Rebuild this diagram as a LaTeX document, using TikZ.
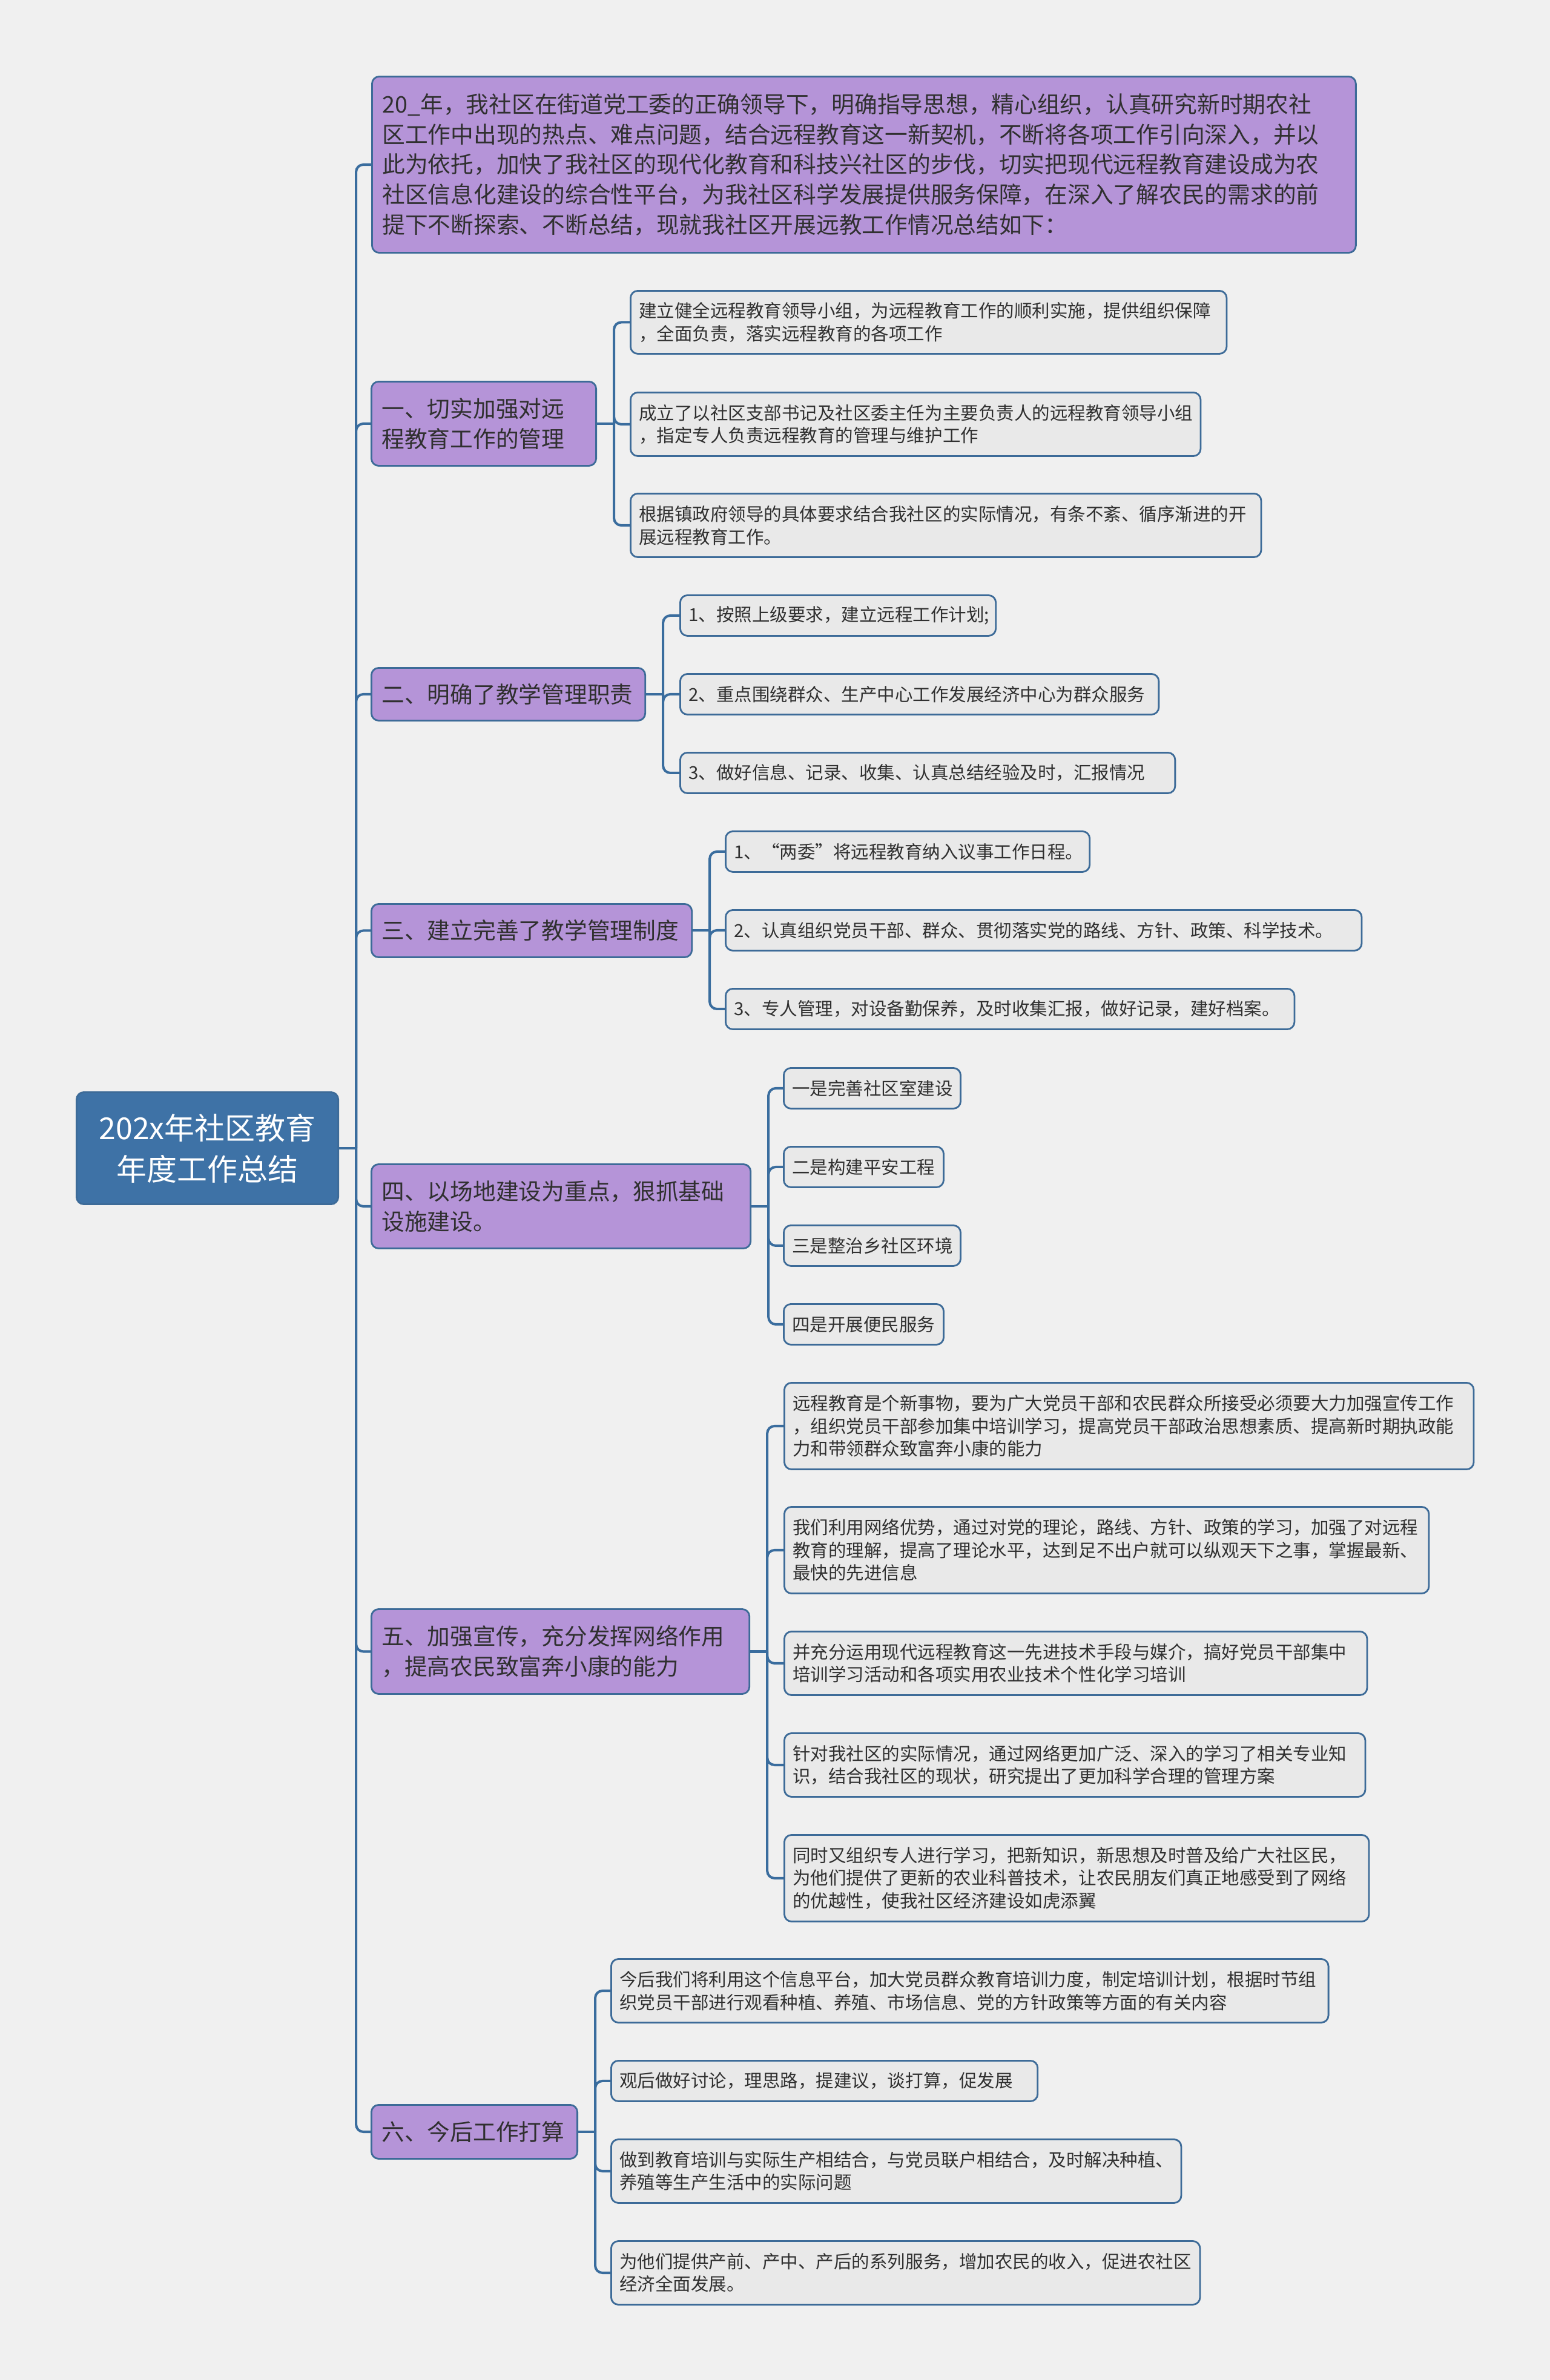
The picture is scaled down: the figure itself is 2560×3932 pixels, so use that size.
\documentclass[tikz,border=0pt]{standalone}
\usepackage{fontspec}
\newfontfamily\cjk{Noto Sans CJK SC}
\definecolor{paper}{HTML}{F0F0F0}
\definecolor{linkblue}{HTML}{3A6D9E}
\definecolor{boxline}{HTML}{3D6B98}
\definecolor{rootblue}{HTML}{3E72A6}
\definecolor{topicpurple}{HTML}{B594D8}
\definecolor{leafgray}{HTML}{E9E9E9}
\definecolor{inkdark}{HTML}{303030}

\begin{document}
\begin{tikzpicture}[x=0.01cm,y=-0.01cm,link/.style={draw=linkblue,line width=1.15pt,rounded corners=0.12cm},box/.style={draw=boxline,line width=0.8pt,rounded corners=0.12cm,anchor=north west,align=left,text=inkdark},root/.style={box,fill=rootblue,draw=boxline,text=white,align=center,inner sep=0pt,font=\cjk\fontsize{14.2}{19.35}\selectfont},topic/.style={box,fill=topicpurple,inner xsep=0.17cm,inner ysep=0pt,font=\cjk\fontsize{10.73}{14.2}\selectfont},leaf/.style={box,fill=leafgray,inner xsep=0.14cm,inner ysep=0pt,font=\cjk\fontsize{8.39}{10.67}\selectfont}]
\fill[paper] (0,0) rectangle (2560,3932);
\node[root,minimum width=4.32cm,minimum height=1.85cm] (root) at (125,1803) {202x年社区教育\\年度工作总结};
\node[topic,text width=15.9cm,minimum height=2.91cm] (intro) at (613,125) {20\_年，我社区在街道党工委的正确领导下，明确指导思想，精心组织，认真研究新时期农社\\区工作中出现的热点、难点问题，结合远程教育这一新契机，不断将各项工作引向深入，并以\\此为依托，加快了我社区的现代化教育和科技兴社区的步伐，切实把现代远程教育建设成为农\\社区信息化建设的综合性平台，为我社区科学发展提供服务保障，在深入了解农民的需求的前\\提下不断探索、不断总结，现就我社区开展远教工作情况总结如下：};
\node[topic,text width=3.37cm,minimum height=1.39cm] (s1) at (612,629) {一、切实加强对远\\程教育工作的管理};
\node[topic,text width=4.18cm,minimum height=0.87cm] (s2) at (612,1102) {二、明确了教学管理职责};
\node[topic,text width=4.95cm,minimum height=0.88cm] (s3) at (612,1492) {三、建立完善了教学管理制度};
\node[topic,text width=5.92cm,minimum height=1.39cm] (s4) at (612,1922) {四、以场地建设为重点，狠抓基础\\设施建设。};
\node[topic,text width=5.90cm,minimum height=1.40cm] (s5) at (612,2657) {五、加强宣传，充分发挥网络作用\\，提高农民致富奔小康的能力};
\node[topic,text width=3.06cm,minimum height=0.89cm] (s6) at (612,3476) {六、今后工作打算};

\node[leaf,text width=9.56cm,minimum height=1.04cm] (c1a) at (1040,479) {建立健全远程教育领导小组，为远程教育工作的顺利实施，提供组织保障\\，全面负责，落实远程教育的各项工作};
\node[leaf,text width=9.13cm,minimum height=1.05cm] (c1b) at (1040,647) {成立了以社区支部书记及社区委主任为主要负责人的远程教育领导小组\\，指定专人负责远程教育的管理与维护工作};
\node[leaf,text width=10.13cm,minimum height=1.05cm] (c1c) at (1040,814) {根据镇政府领导的具体要求结合我社区的实际情况，有条不紊、循序渐进的开\\展远程教育工作。};
\node[leaf,text width=4.93cm,minimum height=0.67cm] (c2a) at (1122,982) {1、按照上级要求，建立远程工作计划;};
\node[leaf,text width=7.62cm,minimum height=0.67cm] (c2b) at (1122,1112) {2、重点围绕群众、生产中心工作发展经济中心为群众服务};
\node[leaf,text width=7.89cm,minimum height=0.67cm] (c2c) at (1122,1242) {3、做好信息、记录、收集、认真总结经验及时，汇报情况};
\node[leaf,text width=5.73cm,minimum height=0.67cm] (c3a) at (1197,1372) {1、“两委”将远程教育纳入议事工作日程。};
\node[leaf,text width=10.22cm,minimum height=0.67cm] (c3b) at (1197,1502) {2、认真组织党员干部、群众、贯彻落实党的路线、方针、政策、科学技术。};
\node[leaf,text width=9.11cm,minimum height=0.67cm] (c3c) at (1197,1632) {3、专人管理，对设备勤保养，及时收集汇报，做好记录，建好档案。};
\node[leaf,text width=2.64cm,minimum height=0.67cm] (c4a) at (1293,1763) {一是完善社区室建设};
\node[leaf,text width=2.36cm,minimum height=0.67cm] (c4b) at (1293,1893) {二是构建平安工程};
\node[leaf,text width=2.64cm,minimum height=0.67cm] (c4c) at (1293,2023) {三是整治乡社区环境};
\node[leaf,text width=2.36cm,minimum height=0.67cm] (c4d) at (1293,2153) {四是开展便民服务};
\node[leaf,text width=11.10cm,minimum height=1.43cm] (c5a) at (1294,2283) {远程教育是个新事物，要为广大党员干部和农民群众所接受必须要大力加强宣传工作\\，组织党员干部参加集中培训学习，提高党员干部政治思想素质、提高新时期执政能\\力和带领群众致富奔小康的能力};
\node[leaf,text width=10.36cm,minimum height=1.43cm] (c5b) at (1294,2488) {我们利用网络优势，通过对党的理论，路线、方针、政策的学习，加强了对远程\\教育的理解，提高了理论水平，达到足不出户就可以纵观天下之事，掌握最新、\\最快的先进信息};
\node[leaf,text width=9.34cm,minimum height=1.05cm] (c5c) at (1294,2694) {并充分运用现代远程教育这一先进技术手段与媒介，搞好党员干部集中\\培训学习活动和各项实用农业技术个性化学习培训};
\node[leaf,text width=9.31cm,minimum height=1.05cm] (c5d) at (1294,2862) {针对我社区的实际情况，通过网络更加广泛、深入的学习了相关专业知\\识，结合我社区的现状，研究提出了更加科学合理的管理方案};
\node[leaf,text width=9.37cm,minimum height=1.43cm] (c5e) at (1294,3030) {同时又组织专人进行学习，把新知识，新思想及时普及给广大社区民，\\为他们提供了更新的农业科普技术，让农民朋友们真正地感受到了网络\\的优越性，使我社区经济建设如虎添翼};
\node[leaf,text width=11.56cm,minimum height=1.05cm] (c6a) at (1008,3235) {今后我们将利用这个信息平台，加大党员群众教育培训力度，制定培训计划，根据时节组\\织党员干部进行观看种植、养殖、市场信息、党的方针政策等方面的有关内容};
\node[leaf,text width=6.76cm,minimum height=0.67cm] (c6b) at (1008,3403) {观后做好讨论，理思路，提建议，谈打算，促发展};
\node[leaf,text width=9.13cm,minimum height=1.05cm] (c6c) at (1008,3533) {做到教育培训与实际生产相结合，与党员联户相结合，及时解决种植、\\养殖等生产生活中的实际问题};
\node[leaf,text width=9.44cm,minimum height=1.05cm] (c6d) at (1008,3701) {为他们提供产前、产中、产后的系列服务，增加农民的收入，促进农社区\\经济全面发展。};

\coordinate (hub) at ([xshift=0.28cm]root.east);
\draw[link] (root.east) -- (hub);
\foreach \s in {intro,s1,s2,s3,s4,s5,s6} \draw[link] (hub) |- (\s.west);
\foreach \s/\kids in {s1/{c1a,c1b,c1c},s2/{c2a,c2b,c2c},s3/{c3a,c3b,c3c},s4/{c4a,c4b,c4c,c4d},s5/{c5a,c5b,c5c,c5d,c5e},s6/{c6a,c6b,c6c,c6d}}{
  \coordinate (\s-fork) at ([xshift=0.28cm]\s.east);
  \draw[link] (\s.east) -- (\s-fork);
  \foreach \k in \kids \draw[link] (\s-fork) |- (\k.west);
}
\end{tikzpicture}
\end{document}
